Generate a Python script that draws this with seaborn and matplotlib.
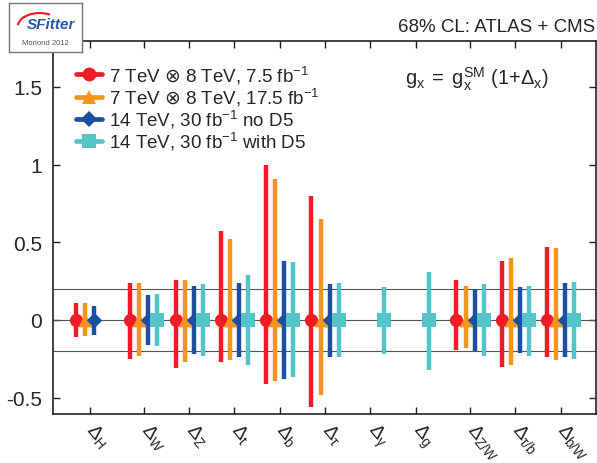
import numpy as np
import pandas as pd
import matplotlib
matplotlib.use('Agg')
import matplotlib.pyplot as plt
import matplotlib.transforms as mtransforms
import seaborn as sns
from matplotlib.lines import Line2D
from matplotlib.patches import Arc

nan = np.nan

# couplings shown on the x axis
couplings = ['H', 'W', 'Z', 't', 'b', r'\tau', r'\gamma', 'g', 'Z/W', r'\tau/b', 'b/W']
tick_labels = [r'$\Delta_{\mathrm{%s}}$' % c for c in couplings]

series_names = [
    r'7 TeV $\mathsf{\otimes}$ 8 TeV, 7.5 fb$^{-1}$',
    r'7 TeV $\mathsf{\otimes}$ 8 TeV, 17.5 fb$^{-1}$',
    '14 TeV, 30 fb$^{-1}$ no D5',
    '14 TeV, 30 fb$^{-1}$ with D5',
]

# best fit (all at the SM point)
central = [0.0] * len(couplings)

# 68% CL upper / lower ends
up_7p5 = [0.11, 0.24, 0.26, 0.57, 1.00, 0.80, nan, nan, 0.26, 0.38, 0.47]
lo_7p5 = [-0.11, -0.25, -0.31, -0.27, -0.41, -0.56, nan, nan, -0.19, -0.30, -0.24]
up_17p5 = [0.11, 0.24, 0.26, 0.52, 0.91, 0.65, nan, nan, 0.22, 0.40, 0.46]
lo_17p5 = [-0.10, -0.23, -0.27, -0.26, -0.39, -0.48, nan, nan, -0.18, -0.29, -0.26]
up_noD5 = [0.09, 0.16, 0.22, 0.24, 0.38, 0.23, nan, nan, 0.20, 0.21, 0.24]
lo_noD5 = [-0.095, -0.16, -0.22, -0.24, -0.38, -0.24, nan, nan, -0.20, -0.21, -0.24]
up_D5 = [nan, 0.17, 0.23, 0.29, 0.37, 0.24, 0.21, 0.31, 0.23, 0.22, 0.245]
lo_D5 = [nan, -0.17, -0.23, -0.29, -0.37, -0.24, -0.22, -0.32, -0.23, -0.23, -0.25]

ups = [up_7p5, up_17p5, up_noD5, up_D5]
los = [lo_7p5, lo_17p5, lo_noD5, lo_D5]

# layout: group centres (ratios get a bit of extra space) and offsets inside a group
group_pos = [0, 1.2, 2.2, 3.2, 4.2, 5.2, 6.2, 7.2, 8.4, 9.4, 10.4]
offsets = [-0.3, -0.1, 0.1, 0.3]
colors = ['#ee1c25', '#f7941d', '#1c4fa0', '#55c4c8']
markers = ['o', '^', 'D', 's']
sizes = [90, 100, 62, 95]

rows = []
for i, name in enumerate(series_names):
    for j, c in enumerate(couplings):
        rows.append({'series': name, 'coupling': c, 'x': group_pos[j] + offsets[i],
                     'central': central[j], 'lo': los[i][j], 'hi': ups[i][j]})
df = pd.DataFrame(rows)

sns.set_theme(style='ticks')
plt.rcParams['font.family'] = ['Liberation Sans', 'DejaVu Sans']
plt.rcParams['mathtext.fontset'] = 'custom'
plt.rcParams['mathtext.rm'] = 'Liberation Sans'
plt.rcParams['mathtext.it'] = 'Liberation Sans:italic'
plt.rcParams['mathtext.bf'] = 'Liberation Sans:bold'
plt.rcParams['mathtext.sf'] = 'DejaVu Sans'
plt.rcParams['axes.unicode_minus'] = False

fig = plt.figure(figsize=(5.97, 4.64), dpi=100)
ax = fig.add_axes([53 / 597, 1 - 415 / 464, (596 - 53) / 597, (415 - 42) / 464])

for y in (-0.2, 0, 0.2):
    ax.axhline(y, color='#555555', lw=0.8, zorder=1)

for i, name in enumerate(series_names):
    sub = df[df['series'] == name].dropna()
    sns.scatterplot(data=sub, x='x', y='central', marker=markers[i], s=sizes[i],
                    color=colors[i], linewidth=0, ax=ax, zorder=2 + 2 * i, legend=False)
    ax.vlines(sub['x'], sub['lo'], sub['hi'], color=colors[i], lw=3.2, zorder=3 + 2 * i)

ax.set_xlabel('')
ax.set_ylabel('')
ax.set_xlim(-0.806, 11.18)
ax.set_ylim(-0.605, 1.795)
ax.set_yticks([-0.5, 0, 0.5, 1, 1.5], ['-0.5', '0', '0.5', '1', '1.5'])
ax.set_xticks(group_pos, tick_labels, rotation=-50, ha='left', va='top', rotation_mode='anchor')
ax.tick_params(axis='both', direction='in', top=True, right=True, length=5, width=1, color='#222222')
ax.tick_params(axis='y', labelsize=15, pad=8)
ax.tick_params(axis='x', labelsize=14, pad=4)
shift = mtransforms.ScaledTranslation(0.08, 0, fig.dpi_scale_trans)
for lab in ax.get_xticklabels():
    lab.set_transform(lab.get_transform() + shift)
for sp in ax.spines.values():
    sp.set_linewidth(1.2)
    sp.set_color('#222222')

handles = [Line2D([], [], color=colors[i], marker=markers[i], markersize=ms, lw=3.4,
                  markeredgewidth=0) for i, ms in enumerate([10, 10, 8, 10])]
ax.legend(handles, series_names, loc='upper left', bbox_to_anchor=(0.022, 0.97), frameon=False,
          fontsize=13.5, handlelength=1.4, handletextpad=0.35, labelspacing=0.0, borderaxespad=0.2)

fig.text(595 / 597, 1 - 27.5 / 464, '68% CL: ATLAS + CMS', ha='right', va='center', fontsize=13.5)
fig.text(405 / 597, 1 - 79 / 464, r'$\mathrm{g_x\;=\;g_x^{SM}\ (1{+}\Delta_x)}$',
         ha='left', va='center', fontsize=14.5)

# SFitter logo box in the corner
logo = fig.add_axes([9 / 597, 1 - 53 / 464, 73 / 597, 49 / 464], zorder=10)
logo.set_xlim(0, 1)
logo.set_ylim(0, 1)
logo.set_xticks([])
logo.set_yticks([])
logo.set_facecolor('white')
for sp in logo.spines.values():
    sp.set_color('#777777')
    sp.set_linewidth(1)
logo.add_patch(Arc((0.42, 0.52), 0.6, 0.55, theta1=60, theta2=175, color='#e8202a', lw=1.6))
logo.text(0.57, 0.58, 'SFitter', ha='center', va='center', fontsize=11, fontweight='bold',
          fontstyle='italic', color='#2458a8')
logo.text(0.5, 0.2, 'Moriond 2012', ha='center', va='center', fontsize=5.5, color='#555555')

fig.savefig('out.png', dpi=100)
